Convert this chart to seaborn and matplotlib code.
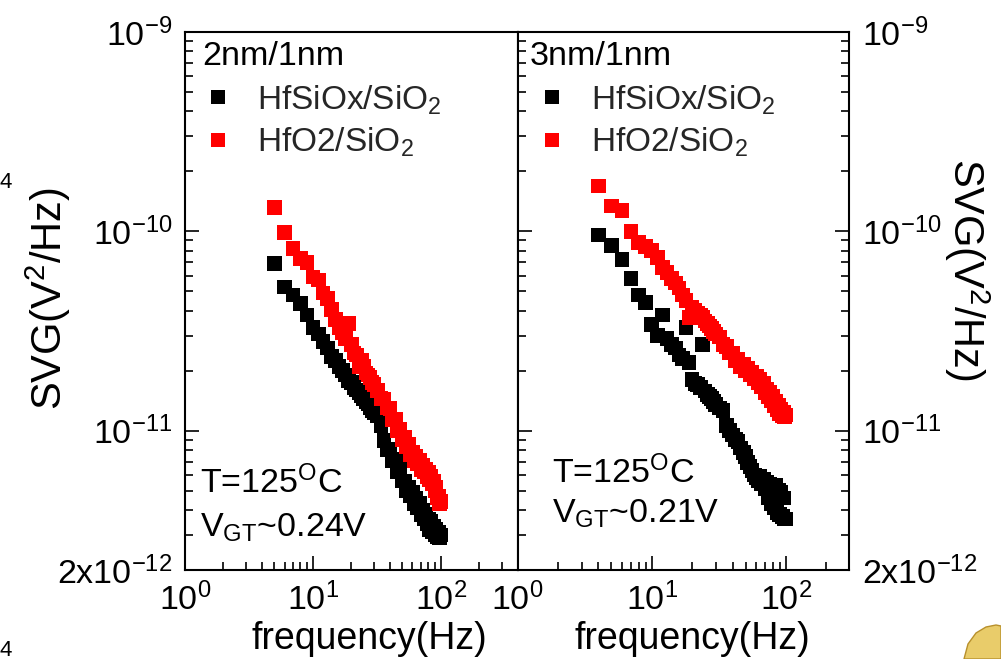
import matplotlib
matplotlib.use("Agg")
import matplotlib.pyplot as plt
from matplotlib.lines import Line2D
from matplotlib.patches import Polygon
from matplotlib.transforms import Affine2D
from matplotlib.ticker import FixedLocator, FixedFormatter, LogLocator, NullFormatter
import pandas as pd
import seaborn as sns

# ---- measured gate-voltage noise spectra (S_VG in units of 1e-12 V^2/Hz) ----
freq_2nm = [5, 6, 7, 8, 9, 10, 11, 12, 13, 14, 15, 16, 17, 18, 19, 20, 21, 22, 23, 24,
            25, 26, 27, 28, 29, 30, 32, 34, 36, 38, 40, 42, 44, 46, 48, 50, 52, 54, 56,
            58, 60, 62, 64, 66, 68, 70, 72, 74, 76, 78, 80, 82, 84, 86, 88, 90, 92, 94,
            96, 98, 100]
hfsiox_2nm = [69, 52.5, 48, 43.5, 38, 33, 30.5, 28, 26, 23.5, 22.5, 21, 20, 19, 17.8,
              17.5, 16.5, 16, 15.5, 15, 14.5, 14, 13.6, 13, 12.6, 12.3,
              11.9, 10.6, 8.9, 8.0, 8.1, 7.1, 7.2, 6.2, 6.4, 5.6, 5.6, 5.0, 5.2, 4.7,
              4.9, 4.3, 4.6, 4.1, 4.3, 3.8, 4.0, 3.6, 3.8, 3.4, 3.6, 3.2, 3.5, 3.1, 3.3,
              3.0, 3.2, 2.95, 3.1, 2.9, 3.0]
hfo2_2nm = [132, 98.6, 82, 73, 69.5, 59, 57, 49, 46, 40.6, 36, 33, 31, 29, 34.5, 27,
            24.5, 24, 21, 22.5, 21, 19.5, 19, 18.5, 17.5, 17,
            15.9, 14.5, 14.4, 13.0, 12.9, 11.4, 11.4, 10.0, 10.1, 9.0, 9.3, 8.3, 8.5,
            7.6, 7.8, 7.1, 7.4, 6.8, 7.1, 6.4, 6.7, 6.2, 6.4, 5.9, 6.2, 5.7, 5.9, 5.4,
            5.6, 5.0, 5.2, 4.6, 4.7, 4.3, 4.4]

freq_3nm = [4, 5, 6, 7, 8, 9, 10, 11, 12, 13, 14, 15, 16, 17, 18, 19, 20, 21, 22, 23,
            24, 25, 26, 27, 28, 29, 30, 32, 34, 36, 38, 40, 42, 44, 46, 48, 50, 52, 54,
            56, 58, 60, 62, 64, 66, 68, 70, 72, 74, 76, 78, 80, 82, 84, 86, 88, 90, 92,
            94, 96, 98, 100]
hfsiox_3nm = [96, 85, 72, 58, 48, 44, 34, 30, 38, 29, 27, 26, 24, 23, 33, 22, 18, 17.3,
              17, 16.5, 27, 15.8, 15.2, 14.8, 14.5, 14, 13.5, 13, 12.6, 10.6, 10, 9.5,
              9.0, 8.8, 8.2, 7.8, 7.4, 6.9, 6.6, 6.3, 6.0, 5.8, 5.6, 5.9, 5.4, 5.7, 5.1,
              5.5, 4.6, 5.4, 4.3, 5.2, 4.1, 5.3, 3.9, 5.0, 3.8, 4.9, 3.7, 4.6, 3.6, 3.6]
hfo2_3nm = [169, 134, 127, 100, 88, 84, 80, 74, 66, 62, 58, 55, 52, 48, 45, 37, 41.5,
            40, 39, 38, 37, 35.5, 34.5, 33.5, 32.5, 31.5, 30.5,
            29.5, 27, 26.5, 24.5, 24.5, 22.5, 22.8, 21, 21.5, 20, 20.6, 19, 19.6, 18.2,
            18.8, 17.4, 18, 16.6, 17.2, 15.6, 16.2, 14.8, 15.6, 14.2, 14.8, 13.4, 14,
            12.8, 13.4, 12.2, 12.8, 11.9, 12.4, 11.7, 12.0]
UNIT = 1e-12

stacks = ["HfSiOx/SiO2", "HfO2/SiO2"]
stack_labels = [r"HfSiOx/SiO$\mathregular{_2}$", r"HfO2/SiO$\mathregular{_2}$"]
stack_colors = ["#000000", "#ff0000"]

panel_titles = ["2nm/1nm", "3nm/1nm"]
temp_text = r"T=125$\mathregular{^O}$C"
vgt_texts = [r"V$\mathregular{_{GT}}$~0.24V", r"V$\mathregular{_{GT}}$~0.21V"]
x_limits = [(1, 398), (1, 295)]
y_limits = (2e-12, 1e-9)
y_major = [2e-12, 1e-11, 1e-10, 1e-9]
y_major_labels = [r"$\mathregular{2x10^{-12}}$", r"$\mathregular{10^{-11}}$",
                  r"$\mathregular{10^{-10}}$", r"$\mathregular{10^{-9}}$"]
x_major = [1, 10, 100]
x_major_labels = [r"$\mathregular{10^0}$", r"$\mathregular{10^1}$", r"$\mathregular{10^2}$"]
ylabel_text = r"SVG(V$\mathregular{^2}$/Hz)"
xlabel_text = "frequency(Hz)"


def panel_frame(freq, black_vals, red_vals):
    rows = []
    for f, v in zip(freq, black_vals):
        rows.append({"f": f, "S": v * UNIT, "stack": stacks[0]})
    for f, v in zip(freq, red_vals):
        rows.append({"f": f, "S": v * UNIT, "stack": stacks[1]})
    return pd.DataFrame(rows)


frames = [panel_frame(freq_2nm, hfsiox_2nm, hfo2_2nm),
          panel_frame(freq_3nm, hfsiox_3nm, hfo2_3nm)]

sns.set_theme(style="white")
plt.rcParams["font.family"] = ["Liberation Sans", "DejaVu Sans"]
plt.rcParams["mathtext.fontset"] = "custom"
plt.rcParams["mathtext.rm"] = "Liberation Sans"
plt.rcParams["mathtext.it"] = "Liberation Sans:italic"
plt.rcParams["mathtext.bf"] = "Liberation Sans:bold"

W, H = 1001, 659
fig = plt.figure(figsize=(W / 100, H / 100), dpi=100)
fig.patch.set_facecolor("white")
ax_l = fig.add_axes([185 / W, 89 / H, 332.5 / W, 538 / H])
ax_r = fig.add_axes([517.5 / W, 89 / H, 331.5 / W, 538 / H])
axes = [ax_l, ax_r]

for i, ax in enumerate(axes):
    sns.scatterplot(data=frames[i], x="f", y="S", hue="stack", hue_order=stacks,
                    palette=stack_colors, marker="s", s=112, linewidth=0,
                    edgecolor="none", legend=False, ax=ax)
    ax.set_xscale("log")
    ax.set_yscale("log")
    ax.set_xlim(*x_limits[i])
    ax.set_ylim(*y_limits)
    ax.set_facecolor("white")
    for sp in ax.spines.values():
        sp.set_color("black")
        sp.set_linewidth(1.5)
    ax.xaxis.set_major_locator(FixedLocator(x_major))
    ax.xaxis.set_major_formatter(FixedFormatter(x_major_labels))
    ax.xaxis.set_minor_locator(LogLocator(base=10, subs=range(2, 10), numticks=20))
    ax.xaxis.set_minor_formatter(NullFormatter())
    ax.yaxis.set_major_locator(FixedLocator(y_major))
    ax.yaxis.set_major_formatter(FixedFormatter(y_major_labels))
    ax.yaxis.set_minor_locator(LogLocator(base=10, subs=range(2, 10), numticks=20))
    ax.yaxis.set_minor_formatter(NullFormatter())
    ax.tick_params(which="both", direction="in", color="black", width=1.2,
                   labelsize=24.5, labelcolor="black", top=False, bottom=True)
    ax.tick_params(which="major", length=10, pad=9)
    ax.tick_params(which="minor", length=6)
    ax.set_xlabel(xlabel_text, fontsize=27, color="black", labelpad=0)

    # thickness label and legend
    ax.text([0.051, 0.038][i], 0.9387, panel_titles[i], transform=ax.transAxes,
            fontsize=24.5, va="baseline", ha="left", color="black")
    handles = [Line2D([], [], linestyle="", marker="s", markersize=10,
                      markerfacecolor=c, markeredgewidth=0) for c in stack_colors]
    ax.legend(handles, stack_labels, loc="upper left",
              bbox_to_anchor=([0.05, 0.055][i], 0.905), frameon=False,
              fontsize=24, handlelength=1.0, handletextpad=0.66,
              labelspacing=0.28, borderpad=0, borderaxespad=0)

    # measurement conditions
    ax.text([0.045, 0.104][i], [0.143, 0.162][i], temp_text, transform=ax.transAxes,
            fontsize=24.5, va="baseline", ha="left", color="black")
    ax.text([0.045, 0.104][i], [0.0613, 0.0874][i], vgt_texts[i],
            transform=ax.transAxes, fontsize=24.5, va="baseline", ha="left",
            color="black")

ax_l.xaxis.set_label_coords(0.554, -0.095)
ax_r.xaxis.set_label_coords(0.527, -0.095)

ax_l.tick_params(axis="y", which="both", left=True, right=False,
                 labelleft=True, labelright=False)
ax_l.set_ylabel(ylabel_text, fontsize=30, color="black")
ax_l.yaxis.label.set_verticalalignment("center")
ax_l.yaxis.set_label_coords(-0.41, 0.505)

ax_r.tick_params(axis="y", which="both", left=True, right=True,
                 labelleft=False, labelright=True)
ax_r.yaxis.set_label_position("right")
ax_r.set_ylabel(ylabel_text, fontsize=30, color="black", rotation=-90)
ax_r.yaxis.label.set_verticalalignment("center")
ax_r.yaxis.label.set_horizontalalignment("center")
ax_r.yaxis.set_label_coords(1.356, 0.558)

# clipped superscripts at the left border of the slide
fig.text(0.0, 1 - 182 / H, "4", fontsize=16, va="center", ha="left", color="black")
fig.text(0.0, 1 - 650 / H, "4", fontsize=16, va="center", ha="left", color="black")

# golden slide ornament in the lower right corner (pixel coordinates, y down)
px = Affine2D().scale(1, -1).translate(0, H) + fig.dpi_scale_trans.inverted() \
    + fig.dpi_scale_trans
bell = Polygon([(964, 659), (968, 644), (976, 633), (986, 627), (996, 625),
                (1001, 626), (1001, 659)], closed=True, facecolor="#e9cc6a",
               edgecolor="#b8902c", linewidth=1.0, transform=px)
fig.patches.append(bell)

fig.savefig("out.png", dpi=100, facecolor="white")
